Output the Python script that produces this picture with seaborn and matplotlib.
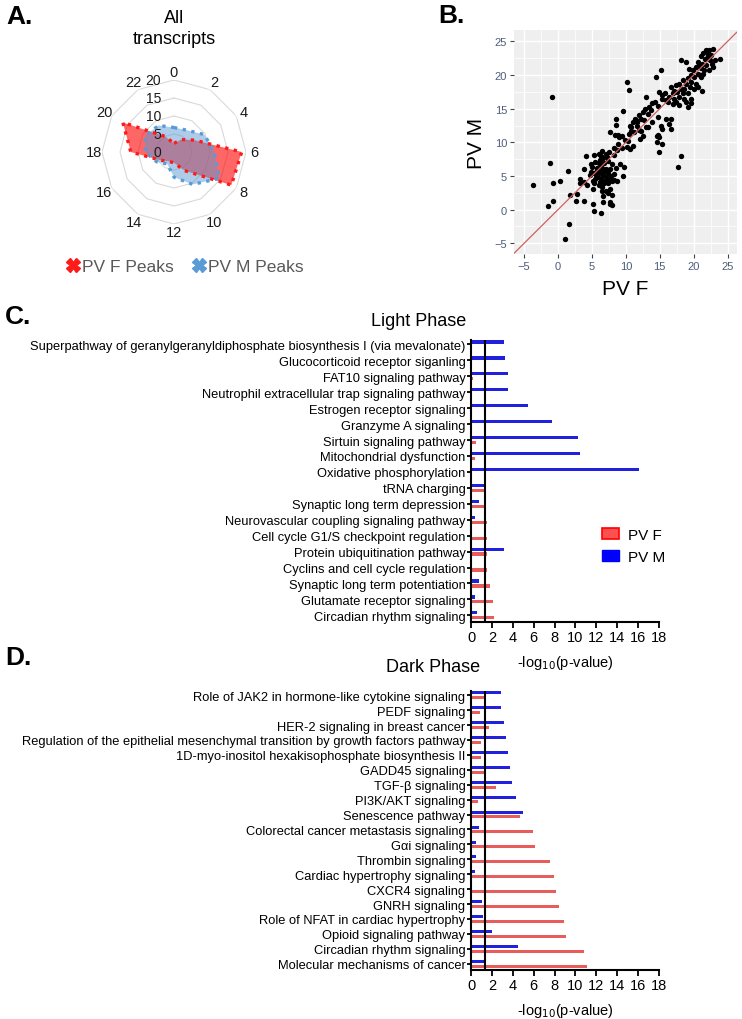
import numpy as np
import pandas as pd
import matplotlib
matplotlib.use('Agg')
import matplotlib.pyplot as plt
from matplotlib.lines import Line2D
from matplotlib.patches import Patch
from matplotlib import transforms
import seaborn as sns

# ---- A. radar: peaks per time bin ----
hours = [0, 2, 4, 6, 8, 10, 12, 14, 16, 18, 20, 22]
pvf_peaks = [2.4, 4.0, 6.6, 18.8, 18.4, 6.0, 3.0, 3.0, 4.5, 12.0, 16.4, 5.0]
pvm_peaks = [6.8, 7.0, 9.7, 11.2, 14.6, 10.4, 7.0, 3.8, 5.5, 8.0, 9.2, 8.5]
radial_ticks = [0, 5, 10, 15, 20]

# ---- B. scatter PV F vs PV M ----
pv_f = [-3.7, -0.9, -1.2, -0.7, -0.7, -1.5, 0.3, 1.4, 1.7, 1.6, 1.0, 2.8, 2.7, 3.9, 3.8, 3.3, 3.2, 4.1,
        3.9, 4.7, 5.1, 5.3, 6.4, 6.7, 6.6, 6.5, 7.7, 8.0, 7.4, 7.9, 7.7, 4.2,
        5.3, 6.0, 6.5, 7.0, 7.5, 8.2, 8.7, 9.5, 5.5, 6.2, 6.8, 7.4, 8.0, 6.6, 7.2,
        5.0, 5.8, 6.4, 7.0, 7.7, 8.5, 9.7, 9.2, 5.3, 6.0, 6.7, 7.3, 5.7, 6.3, 6.9,
        5.5, 6.3, 6.9, 7.5, 8.2, 8.7, 9.6, 8.0, 5.3, 6.0, 6.5, 7.3, 5.2, 7.7, 6.2,
        7.0, 6.1, 5.9, 6.8, 7.1, 4.9, 5.6, 6.6, 7.8, 8.3, 6.4, 5.1, 4.9,
        7.6, 8.4, 8.6, 8.6, 8.9, 9.4, 9.6, 10.1, 10.6, 10.3, 11.0, 10.8, 11.6, 11.3,
        12.1, 12.6, 12.2, 10.2, 10.4, 8.9, 9.9, 10.6, 8.2, 9.0,
        10.7, 11.0, 11.2, 10.5, 11.5, 11.7, 12.0, 12.2, 12.5, 12.7, 12.9, 13.0, 13.0,
        13.2, 13.4, 13.7, 13.9, 14.3, 14.8, 14.9, 15.4, 15.8, 15.3, 15.9, 14.7, 15.9,
        16.7, 16.4, 15.2, 15.4, 14.7, 14.9, 16.7, 14.6, 14.6, 15.3, 14.9, 17.7, 18.2,
        15.2, 14.5, 12.0, 13.2, 13.9,
        18.1, 18.9, 21.8, 22.3, 22.9, 21.4, 22.1, 22.6, 21.1, 21.7, 22.4, 23.9, 23.1,
        20.6, 21.2, 21.9, 22.7, 20.3, 21.1, 21.6, 22.3, 22.9, 19.9, 20.6, 19.6, 20.1,
        21.1, 19.1, 21.4, 18.4, 18.9, 19.6, 20.3, 17.9, 17.4, 18.1, 18.6, 19.4, 20.1,
        20.6, 21.3, 17.1, 17.6, 18.4, 19.1, 16.9, 16.4, 17.9, 18.6, 19.6, 17.1, 18.9,
        19.6, 16.2, 17.4, 19.1, 17.9, 16.7, 22.0, 20.8, 22.2, 21.0, 19.3, 17.0]
pv_m = [3.6, 16.8, 7.0, 4.0, 1.3, 0.5, 4.3, 5.8, 2.2, -2.1, -4.4, 2.3, 1.3, 1.3, 4.1, 4.5, 4.0, 8.0,
        6.0, 5.1, 0.9, -0.2, -0.5, 1.1, 2.0, 2.7, 0.9, 0.7, 2.4, 2.1, 1.2, 3.7,
        8.1, 8.3, 8.7, 8.2, 8.6, 8.1, 8.8, 9.2, 7.1, 7.3, 7.0, 7.2, 6.8, 7.7, 7.8,
        6.3, 6.2, 6.5, 6.1, 6.0, 6.2, 6.4, 6.8, 5.4, 5.5, 5.1, 5.4, 5.9, 5.8, 5.7,
        4.6, 4.5, 4.2, 4.6, 4.4, 4.3, 5.0, 4.2, 3.9, 3.6, 3.4, 3.9, 3.1, 3.1, 4.1,
        4.8, 6.9, 4.9, 3.9, 2.7, 6.8, 5.2, 6.0, 5.0, 5.3, 7.9, 4.3, 5.6,
        11.6, 11.1, 12.6, 13.4, 11.1, 11.0, 14.6, 9.3, 9.0, 10.2, 9.5, 11.7, 13.0, 13.5,
        10.5, 11.0, 11.7, 19.0, 17.8, 9.7, 10.4, 12.5, 9.2, 10.8,
        12.3, 13.0, 11.6, 11.3, 13.3, 12.5, 14.0, 13.5, 14.5, 13.3, 15.0, 12.3, 16.8,
        14.2, 15.3, 14.8, 15.8, 16.0, 15.4, 17.5, 17.0, 17.3, 16.5, 16.3, 13.8, 13.5,
        13.5, 12.8, 12.5, 12.0, 11.1, 10.8, 12.0, 10.9, 10.1, 9.7, 8.6, 6.3, 8.0,
        20.8, 19.7, 11.8, 12.3, 13.0,
        22.2, 22.0, 23.7, 23.8, 23.9, 23.3, 23.1, 23.0, 22.8, 22.4, 22.2, 22.4, 22.2,
        22.0, 21.7, 21.5, 21.6, 21.2, 21.0, 20.7, 20.7, 21.2, 20.7, 20.2, 20.0, 19.7,
        19.7, 19.5, 20.2, 19.2, 18.7, 19.0, 18.7, 18.7, 18.5, 18.0, 18.0, 18.2, 18.0,
        18.2, 17.7, 17.7, 17.5, 17.3, 17.3, 17.3, 16.8, 16.8, 16.5, 16.5, 16.5, 16.0,
        15.8, 16.0, 16.0, 15.3, 15.5, 18.2, 22.6, 21.5, 22.9, 20.0, 20.9, 15.7]

# ---- C. Light phase pathways (-log10 p) ----
light_paths = ['Superpathway of geranylgeranyldiphosphate biosynthesis I (via mevalonate)',
               'Glucocorticoid receptor siganling', 'FAT10 signaling pathway',
               'Neutrophil extracellular trap signaling pathway', 'Estrogen receptor signaling',
               'Granzyme A signaling', 'Sirtuin signaling pathway', 'Mitochondrial dysfunction',
               'Oxidative phosphorylation', 'tRNA charging', 'Synaptic long term depression',
               'Neurovascular coupling signaling pathway', 'Cell cycle G1/S checkpoint regulation',
               'Protein ubiquitination pathway', 'Cyclins and cell cycle regulation',
               'Synaptic long term potentiation', 'Glutamate receptor signaling',
               'Circadian rhythm signaling']
light_f = [0, 0, 0.22, 0, 0, 0, 0.48, 0.38, 0, 1.25, 1.25, 1.5, 1.5, 1.5, 1.57, 1.79, 2.1, 2.2]
light_m = [3.16, 3.26, 3.5, 3.58, 5.43, 7.8, 10.26, 10.45, 16.1, 1.25, 0.77, 0.35, 0, 3.16, 0,
           0.73, 0.35, 0.54]

# ---- D. Dark phase pathways ----
dark_paths = ['Role of JAK2 in hormone-like cytokine signaling', 'PEDF signaling',
              'HER-2 signaling in breast cancer',
              'Regulation of the epithelial mesenchymal transition by growth factors pathway',
              '1D-myo-inositol hexakisophosphate biosynthesis II', 'GADD45 signaling',
              'TGF-β signaling', 'PI3K/AKT signaling', 'Senescence pathway',
              'Colorectal cancer metastasis signaling', 'Gαi signaling', 'Thrombin signaling',
              'Cardiac hypertrophy signaling', 'CXCR4 signaling', 'GNRH signaling',
              'Role of NFAT in cardiac hypertrophy', 'Opioid signaling pathway',
              'Circadian rhythm signaling', 'Molecular mechanisms of cancer']
dark_f = [1.24, 0.86, 1.76, 0.99, 0.99, 1.24, 2.36, 0.67, 4.72, 5.97, 6.13, 7.56, 7.98, 8.17,
          8.39, 8.87, 9.06, 10.85, 11.08]
dark_m = [2.84, 2.84, 3.19, 3.32, 3.51, 3.73, 3.89, 4.31, 5.01, 0.77, 0.51, 0.51, 0.35, 0,
          1.05, 1.12, 1.98, 4.53, 1.44]

sig_line = 1.3

sns.set_theme(style='white')
plt.rcParams['font.family'] = ['Liberation Sans', 'DejaVu Sans']
plt.rcParams['text.color'] = 'black'
plt.rcParams['axes.labelcolor'] = 'black'
plt.rcParams['xtick.color'] = 'black'
plt.rcParams['ytick.color'] = 'black'

W, H = 742, 1020
fig = plt.figure(figsize=(W / 100, H / 100), dpi=100)


def fbox(x0, y0, x1, y1):
    # pixel box -> figure fraction
    return [x0 / W, 1 - y1 / H, (x1 - x0) / W, (y1 - y0) / H]


# ---------- A ----------
axA = fig.add_axes(fbox(102, 81, 246, 225), projection='polar')
axA.set_theta_zero_location('N')
axA.set_theta_direction(-1)
theta = np.deg2rad(np.array(hours) * 15.0)
th = np.append(theta, theta[0])
for r in radial_ticks[1:]:
    axA.plot(th, [r] * len(th), color='#D9D9D9', lw=0.8, zorder=1)
f_cl = pvf_peaks + pvf_peaks[:1]
m_cl = pvm_peaks + pvm_peaks[:1]
axA.fill(th, f_cl, color='#FF0000', alpha=0.6, lw=0, zorder=2)
axA.fill(th, m_cl, color='#5B9BD5', alpha=0.5, lw=0, zorder=3)
axA.plot(th, f_cl, color='#FF1A1A', lw=2.4, ls=':', zorder=4)
axA.plot(th, m_cl, color='#5B9BD5', lw=2.4, ls=':', zorder=5)
axA.set_ylim(0, 20)
axA.grid(False)
axA.spines['polar'].set_visible(False)
axA.set_xticks([])
axA.set_yticks([])
for h, t in zip(hours, theta):
    axA.text(t, 22.3, str(h), ha='center', va='center', fontsize=10.5, color='#1A1A1A')
off = transforms.offset_copy(axA.transData, fig=fig, x=-13, y=0, units='dots')
for r in radial_ticks:
    axA.text(0, r, str(r), transform=off, ha='right', va='center', fontsize=10, color='#1A1A1A')

fig.text(174 / W, 1 - 29 / H, 'All\ntranscripts', ha='center', va='center', fontsize=13,
         linespacing=1.25)
legA = [Line2D([], [], ls='none', marker='X', ms=10, color='#FF1A1A', label='PV F Peaks'),
        Line2D([], [], ls='none', marker='X', ms=10, color='#5B9BD5', label='PV M Peaks')]
fig.legend(handles=legA, loc='center', bbox_to_anchor=(184 / W, 1 - 267 / H), ncol=2,
           frameon=False, fontsize=12.5, handletextpad=0.05, columnspacing=0.9,
           labelcolor='#595959', handlelength=1.0)

# ---------- B ----------
axB = fig.add_axes(fbox(514, 31, 737, 255))
sns.scatterplot(x=pv_f, y=pv_m, ax=axB, color='black', s=15, linewidth=0, zorder=3)
axB.axline((0, 0), slope=1, color='#D0605E', lw=0.9, zorder=4)
axB.set_facecolor('#EFEFEF')
axB.set_xlim(-6.5, 26.4)
axB.set_ylim(-6.6, 26.7)
axB.set_xticks(range(-5, 26, 5))
axB.set_yticks(range(-5, 26, 5))
axB.set_xticks(np.arange(-2.5, 26, 5), minor=True)
axB.set_yticks(np.arange(-2.5, 26, 5), minor=True)
axB.grid(which='major', color='white', lw=1.0)
axB.grid(which='minor', color='white', lw=0.5)
for s in axB.spines.values():
    s.set_visible(False)
axB.tick_params(which='major', length=3, width=0.8, color='#444444', labelsize=8,
                labelcolor='#4D5C7A', direction='out', left=True, bottom=True, pad=2)
axB.tick_params(which='minor', length=0)
axB.set_xlabel('PV F', fontsize=15, labelpad=6)
axB.set_ylabel('PV M', fontsize=15, labelpad=6)


# ---------- C / D ----------
def draw_bars(ax, paths, f_vals, m_vals):
    n = len(paths)
    df = pd.DataFrame({'pathway': paths * 2,
                       'group': ['PV M'] * n + ['PV F'] * n,
                       'value': m_vals + f_vals})
    sns.barplot(data=df, x='value', y='pathway', hue='group', hue_order=['PV M', 'PV F'],
                palette={'PV M': '#0000FF', 'PV F': '#FF4545'}, orient='h', width=0.62,
                gap=0.35, linewidth=0, errorbar=None, legend=False, ax=ax)
    ax.axvline(sig_line, color='black', lw=1.5, zorder=5)
    ax.set_xlim(0, 18)
    ax.set_xticks(range(0, 19, 2))
    ax.set_ylim(n - 1 + 0.42, -0.28)
    ax.set_ylabel('')
    ax.set_xlabel('-log$_{10}$(p-value)', fontsize=10.5, labelpad=6)
    for side in ['top', 'right']:
        ax.spines[side].set_visible(False)
    for side in ['left', 'bottom']:
        ax.spines[side].set_color('black')
        ax.spines[side].set_linewidth(1.5)
    ax.tick_params(axis='x', bottom=True, length=4, width=1.3, color='black', labelsize=10.5,
                   pad=2)
    ax.tick_params(axis='y', left=True, length=3, width=1.3, color='black', labelsize=9.3,
                   pad=1)


axC = fig.add_axes(fbox(471, 341, 659, 623))
draw_bars(axC, light_paths, light_f, light_m)
axD = fig.add_axes(fbox(471, 692, 659, 971))
draw_bars(axD, dark_paths, dark_f, dark_m)

fig.text(419 / W, 1 - 321 / H, 'Light Phase', ha='center', va='center', fontsize=13)
fig.text(433 / W, 1 - 667 / H, 'Dark Phase', ha='center', va='center', fontsize=13)

legC = [Patch(facecolor='#FF5050', edgecolor='#FF0000', lw=1.2, label='PV F'),
        Patch(facecolor='#0000FF', edgecolor='#0000FF', label='PV M')]
fig.legend(handles=legC, loc='center left', bbox_to_anchor=(588 / W, 1 - 547 / H),
           frameon=False, fontsize=11, handlelength=1.15, handleheight=0.7,
           labelspacing=0.5, handletextpad=0.6)

# panel letters
for lab, x, y in [('A.', 6, 17), ('B.', 438, 16), ('C.', 5, 317), ('D.', 5, 658)]:
    fig.text(x / W, 1 - y / H, lab, fontsize=19, fontweight='bold', ha='left', va='center')

fig.savefig('out.png', dpi=100)
